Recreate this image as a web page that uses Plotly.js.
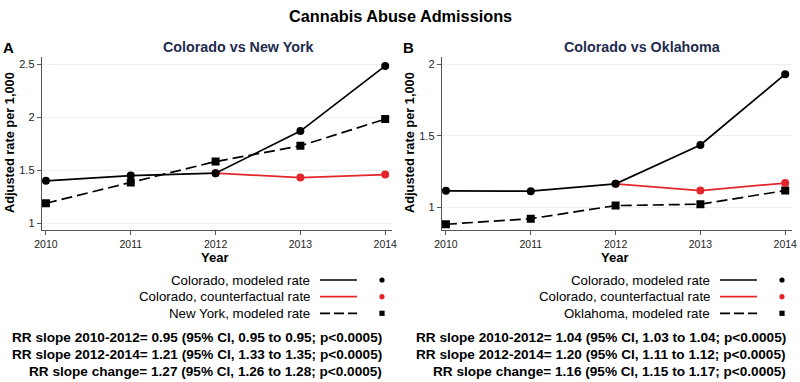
<!DOCTYPE html>
<html><head><meta charset="utf-8">
<script src="https://cdn.plot.ly/plotly-3.0.1.min.js"></script>
<style>html,body{margin:0;padding:0;background:#fff}#chart{width:800px;height:382px}</style>
</head><body><div id="chart"></div>
<script>
// ---- data ----
const years = [2010, 2011, 2012, 2013, 2014];
const cfYears = [2012, 2013, 2014];
// Panel A: Colorado vs New York
const coModeledA = [1.403, 1.453, 1.475, 1.872, 2.486];
const coCounterA = [1.475, 1.434, 1.462];
const nyModeled  = [1.192, 1.387, 1.585, 1.733, 1.985];
// Panel B: Colorado vs Oklahoma
const coModeledB = [1.117, 1.115, 1.166, 1.437, 1.930];
const coCounterB = [1.166, 1.119, 1.171];
const okModeled  = [0.884, 0.923, 1.014, 1.024, 1.119];
const yTicksA = [1, 1.5, 2, 2.5];
const yTickTextA = ["1", "1.5", "2", "2.5"];
const yTicksB = [1, 1.5, 2];
const yTickTextB = ["1", "1.5", "2"];
const legendA = ["Colorado, modeled rate", "Colorado, counterfactual rate", "New York, modeled rate"];
const legendB = ["Colorado, modeled rate", "Colorado, counterfactual rate", "Oklahoma, modeled rate"];
const statsA = ["RR slope 2010-2012= 0.95 (95% CI, 0.95 to 0.95; p<0.0005)",
                "RR slope 2012-2014= 1.21 (95% CI, 1.33 to 1.35; p<0.0005)",
                "RR slope change= 1.27 (95% CI, 1.26 to 1.28; p<0.0005)"];
const statsB = ["RR slope 2010-2012= 1.04 (95% CI, 1.03 to 1.04; p<0.0005)",
                "RR slope 2012-2014= 1.20 (95% CI, 1.11 to 1.12; p<0.0005)",
                "RR slope change= 1.16 (95% CI, 1.15 to 1.17; p<0.0005)"];

// ---- styling ----
const W = 800, H = 382;
const px = x => x / W, py = y => 1 - y / H;
const RED = '#e3262c', BLACK = '#000000', NAVY = '#1e2b4f';
const FONT = 'Liberation Sans, Arial, sans-serif';

function line(x, y, color, dash, symbol, xa, ya) {
  return {x: x, y: y, xaxis: xa, yaxis: ya, type: 'scatter', mode: 'lines+markers',
    line: {color: color, width: 1.7, dash: dash},
    marker: {color: color, symbol: symbol, size: 8}, showlegend: false, hoverinfo: 'skip'};
}
const traces = [
  line(years, nyModeled, BLACK, '11px,5px', 'square', 'x', 'y'),
  line(cfYears, coCounterA, RED, 'solid', 'circle', 'x', 'y'),
  line(years, coModeledA, BLACK, 'solid', 'circle', 'x', 'y'),
  line(years, okModeled, BLACK, '11px,5px', 'square', 'x2', 'y2'),
  line(cfYears, coCounterB, RED, 'solid', 'circle', 'x2', 'y2'),
  line(years, coModeledB, BLACK, 'solid', 'circle', 'x2', 'y2'),
];

function xax(domain, anchor) {
  return {domain: domain, anchor: anchor, range: [2009.95, 2014.08], tickvals: years,
    ticktext: years.map(String), showgrid: false, zeroline: false, showline: true,
    linecolor: '#555', linewidth: 1, ticks: 'outside', ticklen: 4, tickcolor: '#555',
    tickfont: {family: FONT, size: 10.5, color: '#222'}};
}
function yax(domain, anchor, range, tv, tt) {
  return {domain: domain, anchor: anchor, range: range, tickvals: tv, ticktext: tt,
    showgrid: true, gridcolor: '#eceff1', gridwidth: 1, zeroline: false, showline: true,
    linecolor: '#555', linewidth: 1, ticks: 'outside', ticklen: 4, tickcolor: '#555',
    tickfont: {family: FONT, size: 11, color: '#222'}};
}

const ann = [];
const shapes = [];
function text(t, x, y, size, opts) {
  ann.push(Object.assign({text: t, x: px(x), y: py(y), xref: 'paper', yref: 'paper',
    showarrow: false, font: {family: FONT, size: size, color: '#000'},
    xanchor: 'center', yanchor: 'middle'}, opts || {}));
}
text('<b>Cannabis Abuse Admissions</b>', 400, 16, 16.3);
function panel(off, letter, title, titleX, legend, stats, statRight) {
  text('<b>' + letter + '</b>', off + 8, 47, 15);
  text('<b>' + title + '</b>', titleX, 47, 14.3, {font: {family: FONT, size: 14.3, color: NAVY}});
  text('<b>Adjusted rate per 1,000</b>', off + 9, 143, 12.8, {textangle: -90});
  text('<b>Year</b>', off + 214, 257, 13);
  const rows = [280, 296.7, 313.3];
  const cols = [BLACK, RED, BLACK];
  const dashes = ['solid', 'solid', '10px,4px'];
  for (let i = 0; i < 3; i++) {
    text(legend[i], off + 312, rows[i], 13.3, {xanchor: 'right'});
    shapes.push({type: 'line', xref: 'paper', yref: 'paper', x0: px(off + 320), x1: px(off + 357),
      y0: py(rows[i]), y1: py(rows[i]), line: {color: cols[i], width: 1.7, dash: dashes[i]}});
    const r = 2.6;
    shapes.push({type: i === 2 ? 'rect' : 'circle', xref: 'paper', yref: 'paper',
      x0: px(off + 382 - r), x1: px(off + 382 + r), y0: py(rows[i] + r), y1: py(rows[i] - r),
      fillcolor: cols[i], line: {color: cols[i], width: 0}});
  }
  const srows = [337.3, 354.7, 371.3];
  for (let i = 0; i < 3; i++) text('<b>' + stats[i] + '</b>', statRight, srows[i], 13.6, {xanchor: 'right'});
}
panel(0, 'A', 'Colorado vs New York', 238, legendA, statsA, 384);
panel(400, 'B', 'Colorado vs Oklahoma', 642, legendB, statsB, 788);

const layout = {
  width: W, height: H, margin: {l: 0, r: 0, t: 0, b: 0},
  paper_bgcolor: '#fff', plot_bgcolor: '#fff', showlegend: false,
  xaxis: xax([px(41.7), px(392)], 'y'),
  yaxis: yax([py(230), py(57)], 'x', [0.94, 2.57], yTicksA, yTickTextA),
  xaxis2: xax([px(441.7), px(792)], 'y2'),
  yaxis2: yax([py(230), py(57)], 'x2', [0.844, 2.05], yTicksB, yTickTextB),
  annotations: ann, shapes: shapes,
};
Plotly.newPlot('chart', traces, layout, {staticPlot: true, displayModeBar: false});
</script></body></html>
